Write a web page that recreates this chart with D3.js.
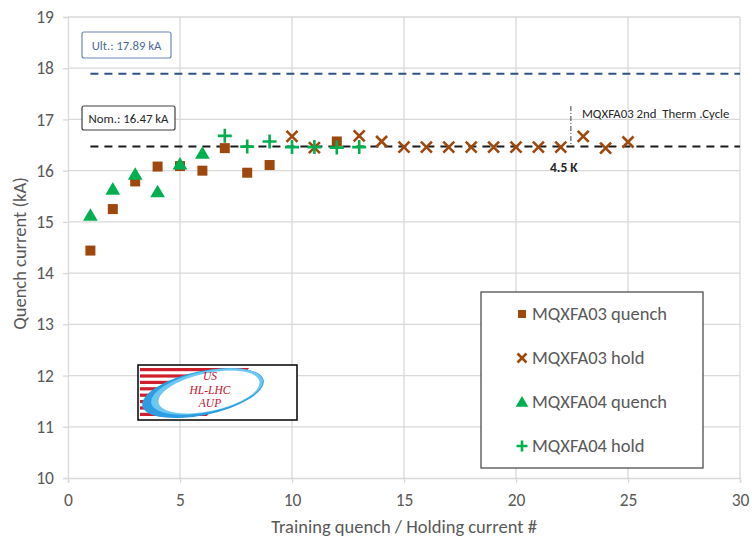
<!DOCTYPE html>
<html>
<head>
<meta charset="utf-8">
<script src="https://cdn.jsdelivr.net/npm/d3@7"></script>
<style>
  body { margin: 0; background: #fff; }
  svg { display: block; font-family: Calibri, Carlito, "Liberation Sans", "Open Sans", sans-serif; }
</style>
</head>
<body>
<svg id="chart" width="752" height="538"></svg>
<script>
// Training data: quench and holding currents (kA) vs. test number
const a03QuenchX = [1, 2, 3, 4, 5, 6, 7, 8, 9, 12];
const a03QuenchY = [14.44, 15.25, 15.79, 16.08, 16.09, 16.0, 16.44, 15.96, 16.11, 16.57];
const a03HoldX = [10, 11, 13, 14, 15, 16, 17, 18, 19, 20, 21, 22, 23, 24, 25];
const a03HoldY = [16.67, 16.45, 16.68, 16.57, 16.46, 16.46, 16.46, 16.46, 16.46, 16.46, 16.46, 16.46, 16.67, 16.44, 16.56];
const a04QuenchX = [1, 2, 3, 4, 5, 6];
const a04QuenchY = [15.13, 15.64, 15.93, 15.59, 16.13, 16.34];
const a04HoldX = [7, 8, 9, 10, 11, 12, 13];
const a04HoldY = [16.68, 16.47, 16.57, 16.46, 16.46, 16.45, 16.46];

const ultCurrent = 17.89;
const nomCurrent = 16.47;
const thermCycleX = 22.45;

const xTicks = [0, 5, 10, 15, 20, 25, 30];
const yTicks = [10, 11, 12, 13, 14, 15, 16, 17, 18, 19];
const legendLabels = ["MQXFA03 quench", "MQXFA03 hold", "MQXFA04 quench", "MQXFA04 hold"];
const logoLines = ["US", "HL-LHC", "AUP"];

const brown = "#9e480e";
const green = "#00b050";
const textGrey = "#595959";
const gridGrey = "#d9d9d9";
const fontStack = "Calibri, Carlito, 'Liberation Sans', 'Open Sans', sans-serif";

const svg = d3.select("#chart");
const x = d3.scaleLinear().domain([0, 30]).range([68, 740]);
const y = d3.scaleLinear().domain([10, 19]).range([478, 17]);

// Gridlines
svg.append("g").selectAll("line").data(yTicks.slice(1)).join("line")
  .attr("x1", x(0)).attr("x2", x(30))
  .attr("y1", d => y(d)).attr("y2", d => y(d))
  .attr("stroke", gridGrey).attr("stroke-width", 1.3);
svg.append("g").selectAll("line").data(xTicks.slice(1)).join("line")
  .attr("x1", d => x(d)).attr("x2", d => x(d))
  .attr("y1", y(10)).attr("y2", y(19))
  .attr("stroke", gridGrey).attr("stroke-width", 1.3);

// Axes
const xAxis = svg.append("g").attr("transform", `translate(0,${y(10)})`)
  .call(d3.axisBottom(x).tickValues(xTicks).tickSize(5).tickPadding(10).tickFormat(d3.format("d")));
const yAxis = svg.append("g").attr("transform", `translate(${x(0)},0)`)
  .call(d3.axisLeft(y).tickValues(yTicks).tickSize(5).tickPadding(9).tickFormat(d3.format("d")));
[xAxis, yAxis].forEach(g => {
  g.select(".domain").attr("stroke", gridGrey).attr("stroke-width", 1.3);
  g.selectAll(".tick line").attr("stroke", gridGrey).attr("stroke-width", 1.3);
  g.selectAll(".tick text").attr("fill", textGrey).attr("font-size", 17.5)
    .attr("font-family", fontStack);
});
xAxis.selectAll(".tick text").attr("dy", "0.75em");

// Axis titles
svg.append("text").attr("x", (x(0) + x(30)) / 2).attr("y", 533)
  .attr("text-anchor", "middle").attr("fill", textGrey).attr("font-size", 18.5)
  .text("Training quench / Holding current #");
svg.append("text").attr("transform", `translate(26,${(y(10) + y(19)) / 2 + 6}) rotate(-90)`)
  .attr("text-anchor", "middle").attr("fill", textGrey).attr("font-size", 18.5)
  .text("Quench current (kA)");

// Reference current lines
svg.append("line").attr("x1", x(1)).attr("x2", x(30))
  .attr("y1", y(ultCurrent)).attr("y2", y(ultCurrent))
  .attr("stroke", "#2f5286").attr("stroke-width", 2).attr("stroke-dasharray", "8,6");
svg.append("line").attr("x1", x(1)).attr("x2", x(30))
  .attr("y1", y(nomCurrent)).attr("y2", y(nomCurrent))
  .attr("stroke", "#1a1a1a").attr("stroke-width", 2).attr("stroke-dasharray", "8,6");

// Current labels
svg.append("rect").attr("x", 82).attr("y", 32).attr("width", 89).attr("height", 26).attr("rx", 2)
  .attr("fill", "#fff").attr("stroke", "#6a88b5").attr("stroke-width", 1.2);
svg.append("text").attr("x", 126.5).attr("y", 49.5).attr("text-anchor", "middle")
  .attr("font-size", 12.7).attr("fill", "#4c6a96").text("Ult.: 17.89 kA");
svg.append("rect").attr("x", 82).attr("y", 106).attr("width", 93).attr("height", 24).attr("rx", 2)
  .attr("fill", "#fff").attr("stroke", "#404040").attr("stroke-width", 1.2);
svg.append("text").attr("x", 128.5).attr("y", 122.5).attr("text-anchor", "middle")
  .attr("font-size", 12.8).attr("fill", "#262626").text("Nom.: 16.47 kA");

// Thermal cycle marker
svg.append("line").attr("x1", x(thermCycleX)).attr("x2", x(thermCycleX))
  .attr("y1", 106).attr("y2", y(nomCurrent))
  .attr("stroke", "#404040").attr("stroke-width", 1).attr("stroke-dasharray", "5,2,1,2");
svg.append("text").attr("x", x(thermCycleX) + 11).attr("y", 118)
  .attr("font-size", 12.8).attr("fill", "#262626").attr("xml:space", "preserve")
  .text("MQXFA03 2nd  Therm .Cycle");
svg.append("text").attr("x", 550).attr("y", 172)
  .attr("font-size", 13.5).attr("font-weight", "bold").attr("fill", "#262626").text("4.5 K");

// Marker drawing helpers
function square(g, cx, cy, s) {
  g.append("rect").attr("x", cx - s / 2).attr("y", cy - s / 2).attr("width", s).attr("height", s)
    .attr("fill", brown);
}
function cross(g, cx, cy, s) {
  g.append("path").attr("d", `M${cx - s},${cy - s}L${cx + s},${cy + s}M${cx - s},${cy + s}L${cx + s},${cy - s}`)
    .attr("stroke", brown).attr("stroke-width", 2.6).attr("fill", "none");
}
function triangle(g, cx, cy, s) {
  g.append("path").attr("d", `M${cx},${cy - s}L${cx + s * 1.05},${cy + s * 0.8}L${cx - s * 1.05},${cy + s * 0.8}Z`)
    .attr("fill", green);
}
function plus(g, cx, cy, s) {
  g.append("path").attr("d", `M${cx - s},${cy}L${cx + s},${cy}M${cx},${cy - s}L${cx},${cy + s}`)
    .attr("stroke", green).attr("stroke-width", 2.6).attr("fill", "none");
}

// Data markers
const marks = svg.append("g");
a03QuenchX.forEach((d, i) => square(marks, x(d), y(a03QuenchY[i]), 10));
a04QuenchX.forEach((d, i) => triangle(marks, x(d), y(a04QuenchY[i]), 7));
a03HoldX.forEach((d, i) => cross(marks, x(d), y(a03HoldY[i]), 5.5));
a04HoldX.forEach((d, i) => plus(marks, x(d), y(a04HoldY[i]), 7));

// Legend
const lg = svg.append("g");
lg.append("rect").attr("x", 481).attr("y", 292).attr("width", 222).attr("height", 176)
  .attr("fill", "#fff").attr("stroke", "#404040").attr("stroke-width", 1.2);
const legendY = [314, 358, 402, 446];
const legendDraw = [
  (cx, cy) => square(lg, cx, cy, 8),
  (cx, cy) => cross(lg, cx, cy, 4.5),
  (cx, cy) => triangle(lg, cx, cy, 6),
  (cx, cy) => plus(lg, cx, cy, 5.5)
];
legendLabels.forEach((lab, i) => {
  legendDraw[i](522, legendY[i]);
  lg.append("text").attr("x", 532).attr("y", legendY[i] + 6)
    .attr("font-size", 18.5).attr("fill", textGrey).text(lab);
});

// Project logo
const logo = svg.append("g");
logo.append("rect").attr("x", 138).attr("y", 365).attr("width", 159).attr("height", 55)
  .attr("fill", "#fff").attr("stroke", "#000").attr("stroke-width", 1.5);
const clip = logo.append("clipPath").attr("id", "stripeClip");
clip.append("path").attr("d", "M140,367H250L205,418H140Z");
const stripes = logo.append("g").attr("clip-path", "url(#stripeClip)");
d3.range(0, 8).forEach(k => {
  stripes.append("rect").attr("x", 140).attr("y", 368 + k * 6.4).attr("width", 120).attr("height", 3.2)
    .attr("fill", "#d0202e");
});
logo.append("ellipse").attr("cx", 203).attr("cy", 393).attr("rx", 62).attr("ry", 22)
  .attr("transform", "rotate(-12,203,393)").attr("fill", "#2b9de0");
logo.append("ellipse").attr("cx", 207).attr("cy", 391.5).attr("rx", 57).attr("ry", 20.5)
  .attr("transform", "rotate(-12,207,391.5)").attr("fill", "#6cc8f0");
logo.append("ellipse").attr("cx", 209).attr("cy", 392).attr("rx", 51.5).attr("ry", 19)
  .attr("transform", "rotate(-12,209,392)").attr("fill", "#fff");
// Stacked logo wording
logoLines.forEach((t, i) => {
  logo.append("text").attr("x", 210).attr("y", 380 + i * 13.5).attr("text-anchor", "middle")
    .attr("font-family", "'Liberation Serif', 'DejaVu Serif', serif").attr("font-style", "italic")
    .attr("font-size", 11.5).attr("fill", "#c8102e").text(t);
});
</script>
</body>
</html>
